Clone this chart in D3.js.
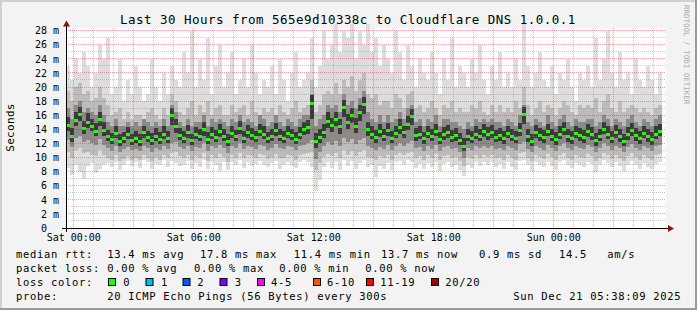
<!DOCTYPE html>
<html><head><meta charset="utf-8">
<script src="https://cdn.jsdelivr.net/npm/d3@7"></script>
<style>
html,body{margin:0;padding:0;background:#f3f3f3;}
svg{display:block}
</style></head><body>
<svg id="c" width="697" height="310"></svg>
<script>
// ---------- data ----------
const median = [14.6,13.0,15.3,16.2,14.2,15.0,14.5,13.8,15.4,13.9,
13.0,12.6,13.5,12.4,12.7,13.3,12.5,12.8,12.4,13.6,
12.9,12.5,13.1,12.6,13.4,12.8,16.0,14.5,13.2,12.8,
13.6,12.5,13.3,13.0,14.0,12.6,13.4,12.9,13.7,13.1,
12.4,13.5,13.0,14.2,12.8,13.6,13.2,12.9,13.8,13.4,
12.7,13.1,13.9,13.0,12.8,13.5,13.2,12.6,13.3,14.0,
14.3,17.8,12.4,12.9,13.6,15.2,14.6,15.4,14.4,17.1,
15.0,16.0,14.5,16.4,17.6,14.0,13.4,12.9,13.7,13.1,
13.9,12.8,13.5,14.3,13.6,14.8,15.9,13.2,13.4,12.7,
13.5,13.0,13.8,12.6,13.3,13.6,12.9,13.2,12.5,11.6,
13.1,12.8,13.4,13.0,13.7,13.3,13.6,12.9,13.2,12.7,
13.5,13.0,12.8,13.9,16.1,13.0,12.4,13.6,13.2,12.9,
13.8,13.1,12.6,13.4,14.0,13.0,12.7,13.5,13.2,12.9,
13.7,13.3,12.5,13.1,14.1,13.4,12.8,13.6,13.0,12.4,
13.3,13.9,13.2,12.7,13.5,13.0,12.6,13.4,13.8,null];
const hi1 = [23,21,24,22,25,23,20,22,26,24,
27,19,20,24,18,21,19,23,20,18,
19,24,20,18,22,19,23,21,20,25,
22,28,20,24,21,27,19,23,26,20,
22,25,19,21,24,20,26,22,19,21,
20,23,19,24,21,18,22,25,20,21,
22,27,20,23,28,24,26,29,25,28,
27,29,24,28,26,29,25,27,23,26,
24,22,28,25,21,26,23,20,24,22,
21,25,22,19,24,21,27,20,23,22,
20,24,22,26,21,19,23,21,25,20,
22,20,24,21,29,23,20,22,25,21,
20,23,19,22,21,24,20,18,22,21,
23,20,27,21,24,28,22,20,25,21,
22,19,24,21,20,23,21,19,22,null];
const hi2 = [19.5,18,20,20.5,19,19.5,18,18.5,20,18.5,
17.5,16,16.5,17,15.5,16.5,15.5,16,16,15.5,
16.5,17,16,15.5,17,16,19,18,16.5,16,
17,18,16,17.5,16.5,18,16,17,17.5,16,
16,17.5,16.5,17,17.5,16,18,16.5,16,17,
16.5,17,16,17.5,16.5,16,17,18,16.5,17,
17.5,21,16.5,17.5,19,19.5,19,20.5,19,21,
20,21.5,19.5,21,22,19,18.5,19,17.5,18,
18,17,19,18.5,17,19,19.5,17,17.5,16.5,
17,18,17,16,17.5,17,18,16.5,17,16.5,
16.5,17.5,17,18,16.5,16,17.5,16.5,17.5,16.5,
17,16.5,18,17,20,17.5,16,17,18,16.5,
17.5,17,16,17,18,17.5,16.5,16,17.5,17,
17.5,17,18.5,16.5,18,19,17,16.5,18,16.5,
17,17.5,17,16.5,17,16.5,16,17,17.5,null];
const hi3 = [17,15.5,17.5,18,16.5,17,16.5,16,17.5,16,
15,14.5,15.5,14.5,14.5,15,14.5,15,14.5,15.5,
15,14.5,15,14.5,15.5,14.5,17.5,16.5,15,14.5,
15.5,14.5,15,15,16,14.5,15.5,15,15.5,15,
14.5,15.5,15,16,15,15.5,15,14.5,16,15.5,
14.5,15,16,15,14.5,15.5,15,14.5,15.5,16,
16,19,14.5,15.5,16,17.5,17,17.5,16.5,19,
17.5,18,17,18.5,19.5,16.5,15.5,15,16,15,
16,15,15.5,16.5,15.5,17,17.5,15,15.5,14.5,
15.5,15,16,14.5,15.5,15.5,15,15,14.5,14,
15,14.5,15.5,15,15.5,15,15.5,15,15,14.5,
15.5,15,14.5,16,17.5,15,14.5,15.5,15,14.5,
16,15,14.5,15.5,16,15,14.5,15.5,15,15,
15.5,15.5,14.5,15,16,15.5,14.5,15.5,15,14.5,
15.5,16,15,14.5,15.5,15,14.5,15.5,16,null];
const hi4 = [15.8,14.2,16.4,17.2,15.2,16.3,15.5,14.9,16.4,15,
13.9,13.5,14.4,13.3,13.6,14.3,13.4,13.8,13.4,14.5,
13.8,13.5,14.2,13.6,14.4,13.7,17,15.5,14.2,13.7,
14.6,13.4,14.3,14,15,13.6,14.3,13.9,14.8,14,
13.3,14.5,13.9,15.2,13.8,14.6,14.2,13.8,14.8,14.4,
13.6,14.1,14.9,14,13.7,14.5,14.1,13.6,14.3,15,
15.3,18.8,13.5,14,14.7,16.4,15.6,16.5,15.4,18.2,
16.1,17,15.6,17.5,18.6,15,14.4,13.9,14.7,14,
14.9,13.8,14.5,15.4,14.5,15.9,16.9,14.2,14.4,13.6,
14.5,14,14.8,13.6,14.3,14.6,13.9,14.2,13.5,12.8,
14.1,13.8,14.4,14,14.8,14.3,14.6,13.9,14.2,13.7,
14.5,14,13.8,14.9,17.1,14,13.4,14.6,14.2,13.9,
14.8,14.1,13.6,14.4,15.1,14,13.7,14.5,14.2,13.9,
14.7,14.3,13.5,14.1,15.1,14.4,13.8,14.6,14,13.4,
14.3,14.9,14.2,13.7,14.5,14,13.6,14.4,14.8,null];
const lo4 = [13.8,12.2,14.4,15.2,13.4,14.2,13.7,13,14.5,13.1,
12.3,11.9,12.8,11.7,12,12.6,11.8,12.1,11.7,12.8,
12.2,11.8,12.4,11.9,12.6,12.1,14.6,13.5,12.5,12.1,
12.8,11.8,12.6,12.3,13.1,11.9,12.6,12.2,12.9,12.4,
11.6,12.8,12.3,13.3,12.1,12.8,12.5,12.2,13,12.6,
12,12.4,13.1,12.3,12.1,12.7,12.5,11.9,12.6,13.2,
13.4,15.5,11.3,12,12.7,14.2,13.6,14.4,13.4,15.8,
14,14.9,13.5,15.2,16.2,13.1,12.6,12.1,12.9,12.3,
13,12,12.7,13.4,12.8,13.9,14.6,12.4,12.6,11.9,
12.7,12.3,13,11.9,12.5,12.8,12.2,12.4,11.8,10.9,
12.4,12,12.6,12.3,12.9,12.5,12.8,12.2,12.4,11.9,
12.7,12.3,12,13.1,14.8,12.2,11.6,12.8,12.4,12.1,
13,12.4,11.8,12.6,13.2,12.2,11.9,12.7,12.4,12.1,
12.9,12.5,11.7,12.3,13.3,12.6,12,12.8,12.2,11.6,
12.5,13.1,12.4,11.9,12.7,12.2,11.8,12.6,13,null];
const lo3 = [12.5,11.5,12.8,13,12.2,12.5,12,11.8,12.6,11.8,
11.3,10.9,11.6,10.8,11.2,11.5,11,11.2,10.9,11.7,
11.3,10.8,11.4,11,11.6,11.2,12,12.2,11.5,11.2,
11.7,10.9,11.5,11.3,12,10.9,11.6,11.3,11.8,11.4,
10.7,11.6,11.3,12,11.2,11.7,11.5,11.2,11.8,11.6,
11.1,11.4,11.9,11.3,11.2,11.6,11.5,11,11.6,11.8,
12,12.5,9.8,10.8,11.6,12.2,11.8,12.3,11.7,12.8,
12.2,12.6,11.9,12.5,12.8,11.6,11.4,11,11.5,11.2,
11.8,11,11.6,12,11.7,12.1,12.3,11.3,11.5,10.9,
11.6,11.2,11.8,10.9,11.5,11.6,11.2,11.4,10.8,9.9,
11.4,11.1,11.6,11.3,11.7,11.4,11.7,11.2,11.4,11,
11.6,11.3,11,11.9,12.2,11.2,10.8,11.7,11.4,11.1,
11.8,11.4,10.9,11.6,12,11.3,11,11.6,11.4,11.2,
11.8,11.5,10.8,11.3,12,11.6,11.1,11.7,11.3,10.8,
11.5,11.9,11.4,11,11.6,11.3,10.9,11.6,11.8,null];
const lo2 = [10.8,10,11,11.3,10.6,10.8,10.4,10.2,11,10.3,
10,9.6,10.3,9.5,9.8,10.2,9.7,9.9,9.6,10.3,
10,9.5,10.1,9.7,10.3,9.9,10.6,10.8,10.2,9.9,
10.4,9.6,10.2,10,10.6,9.5,10.3,10,10.5,10.1,
9.4,10.3,10,10.6,9.9,10.4,10.2,9.9,10.5,10.3,
9.8,10.1,10.5,10,9.9,10.3,10.2,9.7,10.3,10.5,
10.6,10.8,8.2,9.2,10.1,10.5,10.2,10.7,10,11,
10.4,10.9,10.2,10.8,11,10.1,10,9.7,10.2,9.9,
10.4,9.7,10.3,10.6,10.3,10.7,10.8,10,10.2,9.6,
10.3,9.9,10.5,9.6,10.2,10.3,9.9,10.1,9.5,8.8,
10.1,9.8,10.3,10,10.4,10.1,10.4,9.9,10.1,9.7,
10.3,10,9.7,10.6,10.8,9.9,9.5,10.4,10.1,9.8,
10.5,10.1,9.6,10.3,10.7,10,9.7,10.3,10.1,9.9,
10.5,10.2,9.5,10,10.7,10.3,9.8,10.4,10,9.5,
10.2,10.6,10.1,9.7,10.3,10,9.6,10.3,10.5,null];
const lo1 = [8.5,7.5,9,8,7,8.8,9.2,7.8,8.4,9,
9.2,8.6,9.4,8.2,9,9.5,8.8,9.3,8.5,9.6,
9.3,8.4,9.1,8.9,9.6,8.7,9.5,9.2,8.8,9,
9.5,8.3,9.2,8.6,9.7,8.4,9.4,9,8.1,9.3,
8.2,9.4,9,9.6,8.5,9.3,8.8,9.1,9.5,8.9,
8.7,9.2,9.5,8.4,9,9.4,8.8,8.5,9.3,9.6,
9.4,8.6,5.2,6.8,8.7,9.3,8.5,9.4,8.2,9.6,
8.8,9.5,8.3,9.2,9.6,8.6,8.9,7.2,8.8,8.4,
9.2,8.2,9.3,9.5,8.9,9.6,9.4,8.5,9.1,8.3,
9.2,8.6,9.4,8.1,9.1,9.3,8.7,9,8.2,7.4,
9,8.5,9.3,8.8,9.4,9,9.3,8.6,9.1,8.4,
9.3,8.7,8.2,9.5,9.6,8.9,8.1,9.3,9,8.6,
9.4,8.8,8.2,9.3,9.6,8.9,8.5,9.2,9,8.6,
9.4,9.1,8,8.9,9.6,9.2,8.6,9.3,8.8,8.1,
9,9.5,8.9,8.4,9.2,8.7,8.3,9.1,9.4,null];

const yTicks = [0,2,4,6,8,10,12,14,16,18,20,22,24,26,28];
const titleText = "Last 30 Hours from 565e9d10338c to Cloudflare DNS 1.0.0.1";
const yLabel = "Seconds";
const rttLabel = "median rtt:";
const rttStats = ["13.4 ms avg","17.8 ms max","11.4 ms min","13.7 ms now","0.9 ms sd","14.5","am/s"];
const lossLabel = "packet loss:";
const lossStats = ["0.00 % avg","0.00 % max","0.00 % min","0.00 % now"];
const colorLabel = "loss color:";
const lossNames = ["0","1","2","3","4-5","6-10","11-19","20/20"];
const lossColors = ["#26ff00","#00b8ff","#0059ff","#7e00ff","#ff00ff","#ff5500","#ff0000","#a10000"];
const probeLabel = "probe:";
const probeText = "20 ICMP Echo Pings (56 Bytes) every 300s";
const stampText = "Sun Dec 21 05:38:09 2025";
const watermark = "RRDTOOL / TOBI OETIKER";

// ---------- layout ----------
const MONO = "'DejaVu Sans Mono', monospace";
const svg = d3.select("#c");
const T0 = Date.UTC(2025,11,19,23,38,9), T1 = T0 + 30*3600e3, STEP = 12*60e3;
const x = d3.scaleUtc().domain([new Date(T0), new Date(T1)]).range([66, 666]);
const y = d3.scaleLinear().domain([0, 28.37]).range([228, 28]);

// background + 3D border
svg.append("rect").attr("width",697).attr("height",310).attr("fill","#f3f3f3");
svg.append("rect").attr("x",0).attr("y",0).attr("width",697).attr("height",2).attr("fill","#d0d0d0");
svg.append("rect").attr("x",0).attr("y",0).attr("width",2).attr("height",310).attr("fill","#d0d0d0");
svg.append("rect").attr("x",0).attr("y",308).attr("width",697).attr("height",2).attr("fill","#9a9a9a");
svg.append("rect").attr("x",695).attr("y",0).attr("width",2).attr("height",310).attr("fill","#9a9a9a");

// canvas
svg.append("rect").attr("x",66).attr("y",28).attr("width",600).attr("height",200).attr("fill","#ffffff");

// smoke
const layers = [
  {lo: lo1, hi: hi1, c: "#dddddd"},
  {lo: lo2, hi: hi2, c: "#bcbcbc"},
  {lo: lo3, hi: hi3, c: "#8a8a8a"},
  {lo: lo4, hi: hi4, c: "#3a3a3a"}
];
const idx = d3.range(median.length).filter(i => median[i] != null);
const px = i => Math.round(x(new Date(T0 + i*STEP)));
const gData = svg.append("g").attr("shape-rendering","crispEdges");
layers.forEach(L => {
  gData.append("g").selectAll("rect").data(idx).join("rect")
    .attr("x", i => px(i)).attr("width", i => px(i+1) - px(i))
    .attr("y", i => Math.round(y(L.hi[i])))
    .attr("height", i => Math.max(1, Math.round(y(L.lo[i])) - Math.round(y(L.hi[i]))))
    .attr("fill", L.c);
});
gData.append("g").selectAll("rect").data(idx).join("rect")
  .attr("x", i => px(i)).attr("width", i => px(i+1) - px(i))
  .attr("y", i => Math.round(y(median[i])) - 1).attr("height", 3)
  .attr("fill", lossColors[0]);

// grid on top
const gGrid = svg.append("g").attr("shape-rendering","crispEdges");
const hourTicks = x.ticks(d3.utcHour.every(1));
hourTicks.forEach(t => {
  const major = t.getUTCHours() % 3 === 0;
  const xx = Math.floor(x(t)) + 0.5;
  gGrid.append("line").attr("x1",xx).attr("x2",xx).attr("y1",28).attr("y2",228)
    .attr("stroke", major ? "rgba(255,0,0,0.38)" : "rgba(140,140,140,0.45)")
    .attr("stroke-dasharray","1,1");
});
d3.range(1, 29).forEach(v => {
  const yy = Math.floor(y(v)) + 0.5;
  const major = v % 2 === 0;
  gGrid.append("line").attr("x1",66).attr("x2",666).attr("y1",yy).attr("y2",yy)
    .attr("stroke", major ? "rgba(255,0,0,0.38)" : "rgba(140,140,140,0.45)")
    .attr("stroke-dasharray","1,1");
});

// axes lines and arrows
svg.append("line").attr("x1",62).attr("x2",670).attr("y1",228.5).attr("y2",228.5).attr("stroke","#000");
svg.append("line").attr("x1",66.5).attr("x2",66.5).attr("y1",232).attr("y2",24).attr("stroke","#000");
svg.append("polygon").attr("points","668,225 674,228.5 668,232").attr("fill","#8f1010");
svg.append("polygon").attr("points","63,26.5 66.5,20.5 70,26.5").attr("fill","#8f1010");

// x axis labels
const xAxis = d3.axisBottom(x).ticks(d3.utcHour.every(6)).tickFormat(d3.utcFormat("%a %H:%M"))
  .tickSize(0).tickPadding(6);
const gx = svg.append("g").attr("transform","translate(0,228)").call(xAxis);
gx.select(".domain").remove();
gx.selectAll("text").attr("font-family",MONO).attr("font-size",10).attr("fill","#000");

// y axis labels
const yAxis = d3.axisLeft(y).tickValues(yTicks).tickFormat(v => v === 0 ? "0\u00a0\u00a0" : v + " m")
  .tickSize(0).tickPadding(7);
const gy = svg.append("g").attr("transform","translate(66,0)").call(yAxis);
gy.select(".domain").remove();
gy.selectAll("text").attr("font-family",MONO).attr("font-size",10).attr("fill","#000");

// title
svg.append("text").attr("x",120).attr("y",24).attr("font-family",MONO).attr("font-size",12.5)
  .attr("letter-spacing",0.47).attr("fill","#000").text(titleText);
// vertical label
svg.append("text").attr("transform","translate(14,127.5) rotate(-90)").attr("text-anchor","middle")
  .attr("font-family",MONO).attr("font-size",11).attr("letter-spacing",0.3).attr("fill","#000").text(yLabel);
// watermark
svg.append("text").attr("transform","translate(684,5) rotate(90)")
  .attr("font-family",MONO).attr("font-size",7.5).attr("fill","#aaaaaa").text(watermark);

// legend
const leg = svg.append("g").attr("font-family",MONO).attr("font-size",10.5)
  .attr("letter-spacing",0.68).attr("fill","#000");
const put = (s, xx, yy) => leg.append("text").attr("x",xx).attr("y",yy).text(s);
const rows = [258, 272, 286, 300];
put(rttLabel, 16, rows[0]);
[107.3, 200, 293.7, 381, 479, 559, 607.3].forEach((xx,k) => put(rttStats[k], xx, rows[0]));
put(lossLabel, 16, rows[1]);
[107.3, 194, 279.3, 365.3].forEach((xx,k) => put(lossStats[k], xx, rows[1]));
put(colorLabel, 16, rows[2]);
const boxX = [108, 145.5, 182.5, 219.5, 257, 313, 366, 431];
const labX = [123.3, 161, 197.3, 234.7, 271, 327, 380.3, 445.3];
lossNames.forEach((n,k) => {
  svg.append("rect").attr("x",boxX[k]+0.5).attr("y",278.5).attr("width",7).attr("height",7)
    .attr("fill",lossColors[k]).attr("stroke","#000").attr("stroke-width",1);
  put(n, labX[k], rows[2]);
});
put(probeLabel, 16, rows[3]);
put(probeText, 107.3, rows[3]);
put(stampText, 513.3, rows[3]);
</script>
</body></html>
